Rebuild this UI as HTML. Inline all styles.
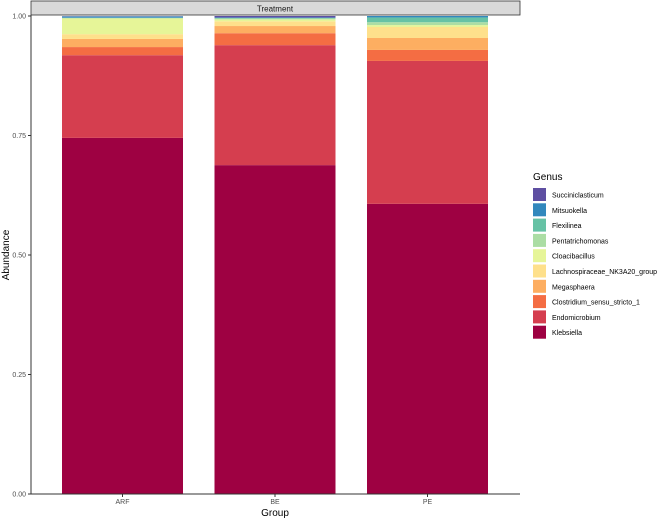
<!DOCTYPE html>
<html><head><meta charset="utf-8"><style>
body{margin:0;background:#fff;}
svg{display:block;font-family:"Liberation Sans",sans-serif;}
</style></head><body>
<svg id="chart" width="669" height="518">
<rect x="31" y="1" width="489" height="14" fill="#d9d9d9" stroke="#333" stroke-width="0.8"/>
<text x="275" y="11.5" font-size="8" text-anchor="middle" fill="#1a1a1a">Treatment</text>
<g id="bars"></g>
<line x1="31" y1="15" x2="31" y2="494" stroke="#333" stroke-width="1"/>
<line x1="31" y1="494" x2="520" y2="494" stroke="#333" stroke-width="1"/>
<g id="yticks"></g><g id="xticks"></g>
<text x="275" y="516" font-size="10" text-anchor="middle" fill="#000">Group</text>
<text transform="translate(9,255) rotate(-90)" font-size="10" text-anchor="middle" fill="#000">Abundance</text>
<text x="533" y="180" font-size="10" fill="#000">Genus</text>
<g id="legend"></g>
</svg>
<script>
const groups=["ARF","BE","PE"];
const genera=["Klebsiella","Endomicrobium","Clostridium_sensu_stricto_1","Megasphaera","Lachnospiraceae_NK3A20_group","Cloacibacillus","Pentatrichomonas","Flexilinea","Mitsuokella","Succiniclasticum"];
const colors=["#9E0142","#D53E4F","#F46D43","#FDAE61","#FEE08B","#E6F598","#ABDDA4","#66C2A5","#3288BD","#5E4FA2"];
const valsARF=[0.745,0.173,0.017,0.017,0.010,0.033,0.001,0.0005,0.0025,0.0005];
const valsBE=[0.688,0.251,0.025,0.015,0.010,0.004,0.002,0.001,0.001,0.003];
const valsPE=[0.607,0.299,0.023,0.025,0.023,0.004,0.006,0.010,0.003,0.000];
const yTicks=[0,0.25,0.5,0.75,1.0];
const yTickLabels=["0.00","0.25","0.50","0.75","1.00"];
const NS="http://www.w3.org/2000/svg";
const y=v=>494-v*478;
const x=i=>62+i*152.5;
const bw=121;
const series=[valsARF,valsBE,valsPE];
const bars=document.getElementById('bars');
series.forEach((vals,gi)=>{
  let cum=0;
  vals.forEach((v,k)=>{
    const r=document.createElementNS(NS,'rect');
    r.setAttribute('x',x(gi));r.setAttribute('width',bw);
    r.setAttribute('y',y(cum+v));r.setAttribute('height',Math.max(0,y(cum)-y(cum+v)));
    r.setAttribute('fill',colors[k]);
    
    
    bars.appendChild(r);cum+=v;
  });
});
const yt=document.getElementById('yticks');
yTicks.forEach((t,i)=>{
  const l=document.createElementNS(NS,'line');
  l.setAttribute('x1',28);l.setAttribute('x2',31);l.setAttribute('y1',y(t));l.setAttribute('y2',y(t));l.setAttribute('stroke','#333');
  
  
  yt.appendChild(l);
  const tx=document.createElementNS(NS,'text');
  tx.setAttribute('x',26);tx.setAttribute('y',y(t)+2.5);tx.setAttribute('font-size','7');tx.setAttribute('text-anchor','end');tx.setAttribute('fill','#4d4d4d');
  tx.textContent=yTickLabels[i];
  
  
  yt.appendChild(tx);
});
const xt=document.getElementById('xticks');
groups.forEach((g,i)=>{
  const cx=x(i)+bw/2;
  const l=document.createElementNS(NS,'line');
  l.setAttribute('x1',cx);l.setAttribute('x2',cx);l.setAttribute('y1',494);l.setAttribute('y2',497);l.setAttribute('stroke','#333');
  
  
  xt.appendChild(l);
  const tx=document.createElementNS(NS,'text');
  tx.setAttribute('x',cx);tx.setAttribute('y',504);tx.setAttribute('font-size','7');tx.setAttribute('text-anchor','middle');tx.setAttribute('fill','#4d4d4d');
  tx.textContent=g;
  
  
  xt.appendChild(tx);
});
const lg=document.getElementById('legend');
for(let j=0;j<genera.length;j++){
  const k=genera.length-1-j;
  const yy=188+j*15.3;
  const r=document.createElementNS(NS,'rect');
  r.setAttribute('x',533);r.setAttribute('y',yy);r.setAttribute('width',13);r.setAttribute('height',13);r.setAttribute('fill',colors[k]);
  
  
  lg.appendChild(r);
  const t=document.createElementNS(NS,'text');
  t.setAttribute('x',552);t.setAttribute('y',yy+9.5);t.setAttribute('font-size','7');t.setAttribute('fill','#000');
  t.textContent=genera[k];
  
  
  lg.appendChild(t);
}
</script>
</body></html>
